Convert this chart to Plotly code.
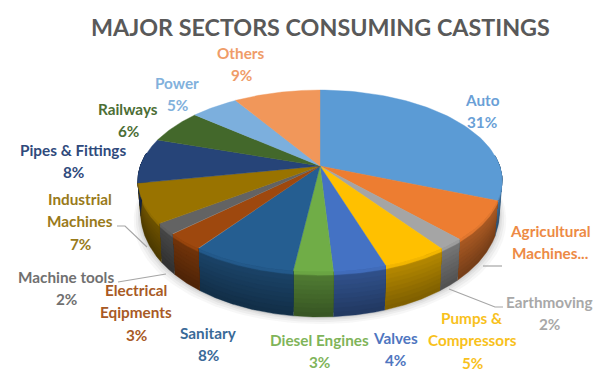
import numpy as np
import plotly.graph_objects as go

# Share of castings consumption by sector, clockwise from twelve o'clock
sectors = ["Auto", "Agricultural<br>Machines...", "Earthmoving", "Pumps &<br>Compressors", "Valves",
           "Diesel Engines", "Sanitary", "Electrical<br>Eqipments", "Machine tools",
           "Industrial<br>Machines", "Pipes & Fittings", "Railways", "Power", "Others"]
shares = [31, 7, 2, 5, 4, 3, 8, 3, 2, 7, 8, 6, 5, 9]
show_share = [True, False, True, True, True, True, True, True, True, True, True, True, True, True]
face_colors = ["#5B9BD5", "#ED7D31", "#A5A5A5", "#FFC000", "#4472C4", "#70AD47", "#255E91",
               "#9E480E", "#636363", "#997300", "#264478", "#43682B", "#7CAFDD", "#F1975A"]
label_colors = ["#6A9FD6", "#ED8A45", "#A8A8A8", "#F8C11C", "#4F76C0", "#7FB45A", "#3A6A98",
                "#A85A25", "#707070", "#997A1A", "#2F4A7C", "#4C6E35", "#82B1DC", "#EF9C68"]
# Centre of the first text line of each label, in pixels
label_x = [482, 550, 549, 472, 395, 319, 208, 136, 66, 80, 73, 128, 177, 241]
label_y = [100, 231, 302, 318, 338, 340, 333, 290, 277, 199, 150, 109, 83, 53]

W, H = 603, 371
CX, CY = 320.0, 166.0
SCALE_X, SCALE_Y, TILT = 179.5, 88.5, 0.165
LINE_GAP = 22.3


def project(theta):
    """Clockwise angle from the top of the disc to screen position on its rim."""
    u, v = np.sin(theta), -np.cos(theta)
    w = 1 - TILT * v
    return CX + SCALE_X * u / w, CY + SCALE_Y * v / w, v


def lower_rim(x, y, v, frac=1.0):
    """Rim point moved down the side wall by frac of the wall height."""
    return CX + (x - CX) * (1 - 0.015 * frac), y + frac * (30 + 15 * v)


def shade(hex_color, f):
    rgb = [int(hex_color[i:i + 2], 16) for i in (1, 3, 5)]
    if f <= 1:
        rgb = [c * f for c in rgb]
    else:
        rgb = [c + (255 - c) * (f - 1) for c in rgb]
    return "rgb({:.0f},{:.0f},{:.0f})".format(*rgb)


def polygon(xs, ys, color, name, edge=0.4):
    return go.Scatter(x=xs, y=ys, mode="lines", fill="toself", fillcolor=color,
                      line=dict(color=color, width=edge), name=name, hoverinfo="name",
                      showlegend=False)


fig = go.Figure()
edges = 2 * np.pi * np.cumsum([0] + shares) / sum(shares)

# Soft shadow under the front of the pie
ring = np.linspace(0, 2 * np.pi, 240)
rx, ry, rv = project(ring)
bx, by = lower_rim(rx, ry, rv)
for grow, alpha in zip((7, 5, 3, 1.5), (0.05, 0.06, 0.07, 0.09)):
    fig.add_trace(polygon(CX + (bx - CX) * (1 + grow / 180), by + grow, f"rgba(90,90,90,{alpha})", "shadow", 0))

# Side wall: drawn bottom band first, each band reaching up to the rim so no seams show
band_tops = np.linspace(0.1, 0.9, 9)[::-1]
band_shades = np.linspace(0.52, 0.72, 9)
for i, sector in enumerate(sectors):
    t = np.linspace(edges[i], edges[i + 1], 60)
    x, y, v = project(t)
    keep = v > -0.15
    if not keep.any():
        continue
    x, y, v = x[keep], y[keep], v[keep]
    x1, y1 = lower_rim(x, y, v, 1.0)
    fig.add_trace(polygon(np.r_[x, x1[::-1]], np.r_[y, y1[::-1]], shade(face_colors[i], 0.5), sector))
    for f_top, s in zip(band_tops, band_shades):
        x1, y1 = lower_rim(x, y, v, f_top)
        fig.add_trace(polygon(np.r_[x, x1[::-1]], np.r_[y, y1[::-1]], shade(face_colors[i], s), sector))
    # Narrow bevel highlight along the rim
    x1, y1 = lower_rim(x, y, v, 0.07)
    fig.add_trace(polygon(np.r_[x, x1[::-1]], np.r_[y, y1[::-1]], shade(face_colors[i], 0.95), sector))

# Top face
for i, sector in enumerate(sectors):
    t = np.linspace(edges[i], edges[i + 1], 60)
    x, y, _ = project(t)
    fig.add_trace(polygon(np.r_[CX, x, CX], np.r_[CY, y, CY], face_colors[i], sector))

# Leader lines from the outer labels
leaders = [([117, 125, 147], [226, 226, 247]),
           ([118, 166], [282, 274]),
           ([483, 502], [266, 266]),
           ([449, 495, 503], [289, 307, 307])]
for lx, ly in leaders:
    fig.add_trace(go.Scatter(x=lx, y=ly, mode="lines", line=dict(color="#A6A6A6", width=1.2),
                             hoverinfo="skip", showlegend=False))

# Labels: one annotation per text line for even spacing
annotations = []
for name, share, show, color, lx, ly in zip(sectors, shares, show_share, label_colors, label_x, label_y):
    lines = name.split("<br>") + ([f"{share}%"] if show else [])
    for k, text in enumerate(lines):
        annotations.append(dict(x=lx, y=ly + k * LINE_GAP, text=text, showarrow=False,
                                xref="x", yref="y", xanchor="center", yanchor="middle",
                                font=dict(family="Lato", size=15.3, color=color, weight="bold")))

fig.update_layout(
    width=W, height=H, margin=dict(l=0, r=0, t=0, b=0),
    paper_bgcolor="white", plot_bgcolor="white", showlegend=False,
    xaxis=dict(range=[0, W], visible=False, fixedrange=True),
    yaxis=dict(range=[H, 0], visible=False, fixedrange=True),
    annotations=annotations + [dict(
        x=320, y=27, xref="x", yref="y", showarrow=False, xanchor="center", yanchor="middle",
        text="MAJOR SECTORS CONSUMING CASTINGS",
        font=dict(family="Lato", size=23.3, color="#595959", weight="bold"))],
)

fig.write_html("out.html", config=dict(displayModeBar=False))
